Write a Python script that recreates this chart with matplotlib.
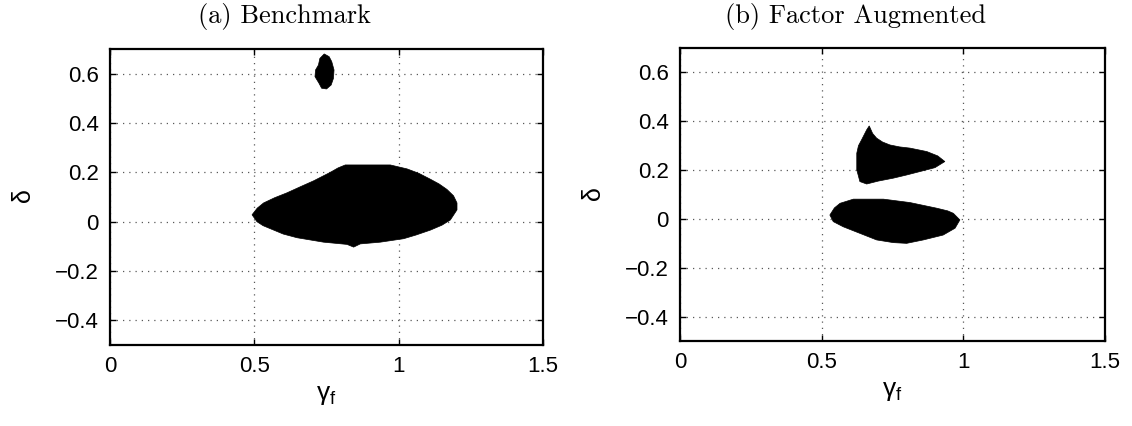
import matplotlib
matplotlib.use("Agg")
import matplotlib.pyplot as plt

# region outlines (gamma_f, delta)
bench_big_x = [0.492, 0.510, 0.532, 0.570, 0.613, 0.660, 0.706, 0.763, 0.790, 0.815, 0.971, 1.029, 1.070,
               1.110, 1.140, 1.167, 1.190, 1.202, 1.202, 1.179, 1.150, 1.110, 1.060, 1.017, 0.936,
               0.867, 0.844, 0.821, 0.740, 0.648, 0.600, 0.567, 0.530, 0.509]
bench_big_y = [0.028, 0.055, 0.076, 0.097, 0.117, 0.142, 0.166, 0.200, 0.218, 0.230, 0.230, 0.214, 0.196,
               0.172, 0.153, 0.131, 0.105, 0.076, 0.048, 0.007, -0.014, -0.034, -0.054, -0.069, -0.083,
               -0.090, -0.103, -0.092, -0.083, -0.065, -0.050, -0.034, -0.016, 0.000]

bench_small_x = [0.742, 0.759, 0.768, 0.776, 0.774, 0.766, 0.750, 0.733, 0.724, 0.710, 0.712, 0.722, 0.727]
bench_small_y = [0.680, 0.669, 0.649, 0.615, 0.581, 0.554, 0.538, 0.541, 0.561, 0.588, 0.615, 0.635, 0.662]

fa_tri_x = [0.668, 0.680, 0.694, 0.715, 0.741, 0.775, 0.812, 0.871, 0.910, 0.935, 0.900, 0.847, 0.800,
            0.753, 0.700, 0.659, 0.635, 0.624, 0.624, 0.630, 0.641, 0.659]
fa_tri_y = [0.381, 0.350, 0.331, 0.315, 0.303, 0.295, 0.290, 0.276, 0.258, 0.235, 0.210, 0.194, 0.180,
            0.167, 0.155, 0.143, 0.153, 0.201, 0.269, 0.300, 0.324, 0.365]

fa_low_x = [0.529, 0.545, 0.565, 0.612, 0.718, 0.812, 0.906, 0.945, 0.965, 0.988, 0.971, 0.929, 0.859,
            0.800, 0.753, 0.694, 0.635, 0.576, 0.541]
fa_low_y = [0.016, 0.045, 0.064, 0.081, 0.081, 0.067, 0.044, 0.033, 0.023, -0.004, -0.038, -0.066, -0.086,
            -0.100, -0.097, -0.086, -0.059, -0.032, -0.011]

xticks = [0, 0.5, 1, 1.5]
xtick_labels = ["0", "0.5", "1", "1.5"]
yticks = [-0.4, -0.2, 0, 0.2, 0.4, 0.6]
ytick_labels = ["\u22120.4", "\u22120.2", "0", "0.2", "0.4", "0.6"]

titles = ["(a) Benchmark", "(b) Factor Augmented"]

plt.rcParams["font.family"] = ["Liberation Sans", "DejaVu Sans"]
plt.rcParams["mathtext.fontset"] = "custom"
plt.rcParams["mathtext.rm"] = "Liberation Sans"
plt.rcParams["mathtext.it"] = "Liberation Sans"

fig = plt.figure(figsize=(11.32, 4.26), dpi=100)
ax1 = fig.add_axes([0.0972, 0.190, 0.3825, 0.695])
ax2 = fig.add_axes([0.6007, 0.1995, 0.3754, 0.6878])


def style(ax):
    ax.set_xlim(0, 1.5)
    ax.set_ylim(-0.5, 0.7)
    ax.set_xticks(xticks)
    ax.set_xticklabels(xtick_labels)
    ax.set_yticks(yticks)
    ax.set_yticklabels(ytick_labels)
    ax.tick_params(direction="in", top=True, right=True, length=4, width=1,
                   labelsize=16, pad=8)
    ax.grid(True, linestyle=(0, (1, 4)), color="0.35", linewidth=0.9)
    for s in ax.spines.values():
        s.set_linewidth(1.6)
    ax.set_xlabel(r"$\gamma_\mathrm{f}$", fontsize=19, labelpad=4)
    ax.set_ylabel(r"$\delta$", fontsize=18, labelpad=14)
    ax.set_axisbelow(True)


ax1.fill(bench_big_x, bench_big_y, color="black", linewidth=0.5, edgecolor="black")
ax1.fill(bench_small_x, bench_small_y, color="black", linewidth=0.5, edgecolor="black")
style(ax1)

ax2.fill(fa_tri_x, fa_tri_y, color="black", linewidth=0.5, edgecolor="black")
ax2.fill(fa_low_x, fa_low_y, color="black", linewidth=0.5, edgecolor="black")
style(ax2)

fig.text(284 / 1132, 1 - 16 / 426, titles[0], family="cmr10", fontsize=19, ha="center", va="center")
fig.text(856 / 1132, 1 - 16 / 426, titles[1], family="cmr10", fontsize=19, ha="center", va="center")

fig.savefig("out.png", dpi=100)
